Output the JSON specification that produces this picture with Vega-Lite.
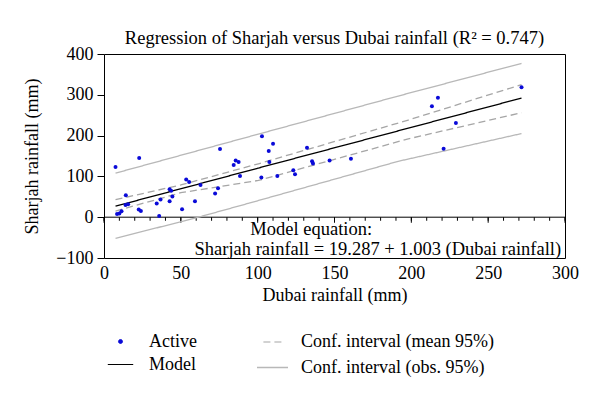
{
  "$schema": "https://vega.github.io/schema/vega-lite/v6.json",
  "width": 461,
  "height": 204,
  "padding": {"left": 23, "top": 28, "right": 10, "bottom": 5},
  "background": "white",
  "title": {"text": "Regression of Sharjah versus Dubai rainfall (R² = 0.747)", "font": "Liberation Serif", "fontSize": 18.5, "fontWeight": "normal", "color": "#000", "offset": -2},
  "config": {
    "view": {"stroke": "#000", "strokeWidth": 1},
    "axis": {"labelFont": "Liberation Serif", "titleFont": "Liberation Serif", "labelFontSize": 18, "titleFontSize": 18, "titleFontWeight": "normal", "labelColor": "#000", "titleColor": "#000", "grid": false, "domainColor": "#000", "tickColor": "#000"},
    "legend": {"labelFont": "Liberation Serif", "labelFontSize": 18, "labelColor": "#000", "labelLimit": 400}
  },
  "datasets": {
    "pts": [
      {"dubai": 7.5, "sharjah": 123, "series": "Active"},
      {"dubai": 8.5, "sharjah": 8, "series": "Active"},
      {"dubai": 10, "sharjah": 9, "series": "Active"},
      {"dubai": 11.4, "sharjah": 14.7, "series": "Active"},
      {"dubai": 14.2, "sharjah": 54, "series": "Active"},
      {"dubai": 14, "sharjah": 30, "series": "Active"},
      {"dubai": 15.7, "sharjah": 32, "series": "Active"},
      {"dubai": 22.9, "sharjah": 145, "series": "Active"},
      {"dubai": 22.6, "sharjah": 19, "series": "Active"},
      {"dubai": 24, "sharjah": 15, "series": "Active"},
      {"dubai": 34.3, "sharjah": 33.5, "series": "Active"},
      {"dubai": 35.9, "sharjah": 3, "series": "Active"},
      {"dubai": 36.8, "sharjah": 43.5, "series": "Active"},
      {"dubai": 42.7, "sharjah": 68.8, "series": "Active"},
      {"dubai": 43.7, "sharjah": 65, "series": "Active"},
      {"dubai": 42.7, "sharjah": 39, "series": "Active"},
      {"dubai": 44.5, "sharjah": 51, "series": "Active"},
      {"dubai": 50.8, "sharjah": 19.5, "series": "Active"},
      {"dubai": 53.5, "sharjah": 92.5, "series": "Active"},
      {"dubai": 55.4, "sharjah": 86, "series": "Active"},
      {"dubai": 59.2, "sharjah": 39, "series": "Active"},
      {"dubai": 62.8, "sharjah": 79, "series": "Active"},
      {"dubai": 72.3, "sharjah": 58, "series": "Active"},
      {"dubai": 74.2, "sharjah": 71, "series": "Active"},
      {"dubai": 75.5, "sharjah": 167, "series": "Active"},
      {"dubai": 84.4, "sharjah": 128, "series": "Active"},
      {"dubai": 85.7, "sharjah": 139, "series": "Active"},
      {"dubai": 87.6, "sharjah": 135.5, "series": "Active"},
      {"dubai": 88.5, "sharjah": 101, "series": "Active"},
      {"dubai": 102.4, "sharjah": 97, "series": "Active"},
      {"dubai": 102.8, "sharjah": 198.5, "series": "Active"},
      {"dubai": 107.2, "sharjah": 162, "series": "Active"},
      {"dubai": 107.6, "sharjah": 135.5, "series": "Active"},
      {"dubai": 110, "sharjah": 180, "series": "Active"},
      {"dubai": 112.8, "sharjah": 101, "series": "Active"},
      {"dubai": 123.2, "sharjah": 115, "series": "Active"},
      {"dubai": 124.3, "sharjah": 105.4, "series": "Active"},
      {"dubai": 132.1, "sharjah": 170, "series": "Active"},
      {"dubai": 135.4, "sharjah": 137, "series": "Active"},
      {"dubai": 136, "sharjah": 131.5, "series": "Active"},
      {"dubai": 146.8, "sharjah": 139, "series": "Active"},
      {"dubai": 160.7, "sharjah": 143, "series": "Active"},
      {"dubai": 213.4, "sharjah": 272, "series": "Active"},
      {"dubai": 217.3, "sharjah": 292.5, "series": "Active"},
      {"dubai": 221, "sharjah": 167.5, "series": "Active"},
      {"dubai": 229, "sharjah": 231, "series": "Active"},
      {"dubai": 271.7, "sharjah": 318.6, "series": "Active"}
    ],
    "lines": [
      {"dubai": 7.5, "sharjah": 27, "series": "Model", "part": "model"},
      {"dubai": 100, "sharjah": 120, "series": "Model", "part": "model"},
      {"dubai": 271.7, "sharjah": 292, "series": "Model", "part": "model"},
      {"dubai": 7.5, "sharjah": 43, "series": "Conf. interval (mean 95%)", "part": "mean_up"},
      {"dubai": 50, "sharjah": 79, "series": "Conf. interval (mean 95%)", "part": "mean_up"},
      {"dubai": 100.5, "sharjah": 131, "series": "Conf. interval (mean 95%)", "part": "mean_up"},
      {"dubai": 198, "sharjah": 238, "series": "Conf. interval (mean 95%)", "part": "mean_up"},
      {"dubai": 271.7, "sharjah": 325, "series": "Conf. interval (mean 95%)", "part": "mean_up"},
      {"dubai": 7.5, "sharjah": 15, "series": "Conf. interval (mean 95%)", "part": "mean_lo"},
      {"dubai": 50, "sharjah": 60, "series": "Conf. interval (mean 95%)", "part": "mean_lo"},
      {"dubai": 100.5, "sharjah": 90, "series": "Conf. interval (mean 95%)", "part": "mean_lo"},
      {"dubai": 198, "sharjah": 192, "series": "Conf. interval (mean 95%)", "part": "mean_lo"},
      {"dubai": 271.7, "sharjah": 256, "series": "Conf. interval (mean 95%)", "part": "mean_lo"},
      {"dubai": 7.5, "sharjah": 108, "series": "Conf. interval (obs. 95%)", "part": "obs_up"},
      {"dubai": 94, "sharjah": 197, "series": "Conf. interval (obs. 95%)", "part": "obs_up"},
      {"dubai": 191.5, "sharjah": 297, "series": "Conf. interval (obs. 95%)", "part": "obs_up"},
      {"dubai": 271.7, "sharjah": 377, "series": "Conf. interval (obs. 95%)", "part": "obs_up"},
      {"dubai": 7.5, "sharjah": -52, "series": "Conf. interval (obs. 95%)", "part": "obs_lo"},
      {"dubai": 61.4, "sharjah": 0, "series": "Conf. interval (obs. 95%)", "part": "obs_lo"},
      {"dubai": 94, "sharjah": 34, "series": "Conf. interval (obs. 95%)", "part": "obs_lo"},
      {"dubai": 191.5, "sharjah": 137, "series": "Conf. interval (obs. 95%)", "part": "obs_lo"},
      {"dubai": 271.7, "sharjah": 205, "series": "Conf. interval (obs. 95%)", "part": "obs_lo"}
    ],
    "zeroTicks": [
      {"dubai": 0}, {"dubai": 10}, {"dubai": 20}, {"dubai": 30}, {"dubai": 40}, {"dubai": 50},
      {"dubai": 60}, {"dubai": 70}, {"dubai": 80}, {"dubai": 90}, {"dubai": 100}, {"dubai": 110},
      {"dubai": 120}, {"dubai": 130}, {"dubai": 140}, {"dubai": 150}, {"dubai": 160}, {"dubai": 170},
      {"dubai": 180}, {"dubai": 190}, {"dubai": 200}, {"dubai": 210}, {"dubai": 220}, {"dubai": 230},
      {"dubai": 240}, {"dubai": 250}, {"dubai": 260}, {"dubai": 270}, {"dubai": 280}, {"dubai": 290}, {"dubai": 300}
    ],
    "zeroMajor": [
      {"dubai": 0}, {"dubai": 50}, {"dubai": 100}, {"dubai": 150}, {"dubai": 200}, {"dubai": 250}, {"dubai": 300}
    ]
  },
  "layer": [
    {
      "data": {"values": [{"zero": 0}]},
      "mark": {"type": "rule", "color": "#000", "strokeWidth": 1},
      "encoding": {
        "y": {"field": "zero", "type": "quantitative", "scale": {"domain": [-100, 400], "nice": false, "zero": false}}
      }
    },
    {
      "data": {"name": "zeroTicks"},
      "mark": {"type": "tick", "orient": "vertical", "color": "#000", "size": 3.5, "thickness": 1, "opacity": 1},
      "encoding": {
        "x": {"field": "dubai", "type": "quantitative"},
        "y": {"datum": -4.3, "type": "quantitative"}
      }
    },
    {
      "data": {"name": "zeroMajor"},
      "mark": {"type": "tick", "orient": "vertical", "color": "#000", "size": 5.5, "thickness": 1, "opacity": 1},
      "encoding": {
        "x": {"field": "dubai", "type": "quantitative"},
        "y": {"datum": -6.7, "type": "quantitative"}
      }
    },
    {
      "data": {"name": "lines"},
      "mark": {"type": "line", "strokeWidth": 1.3},
      "encoding": {
        "x": {"field": "dubai", "type": "quantitative", "scale": {"domain": [0, 300], "nice": false, "zero": false}},
        "y": {"field": "sharjah", "type": "quantitative"},
        "detail": {"field": "part"},
        "color": {"field": "series", "type": "nominal",
                  "scale": {"domain": ["Active", "Conf. interval (mean 95%)", "Model", "Conf. interval (obs. 95%)"], "range": ["#0a0ad8", "#a6a6a6", "#000000", "#b8b8b8"]},
                  "legend": {"title": null, "orient": "bottom", "direction": "horizontal", "columns": 2, "columnPadding": 57, "rowPadding": 0, "labelOffset": 12, "symbolStrokeWidth": 1.5, "offset": 28}},
        "strokeDash": {"field": "series", "type": "nominal",
                  "scale": {"domain": ["Active", "Conf. interval (mean 95%)", "Model", "Conf. interval (obs. 95%)"], "range": [[1,0],[7,4],[1,0],[1,0]]}},
        "strokeWidth": {"field": "series", "type": "nominal", "legend": null,
                  "scale": {"domain": ["Active", "Conf. interval (mean 95%)", "Model", "Conf. interval (obs. 95%)"], "range": [1, 1.3, 1.8, 1.3]}}
      }
    },
    {
      "data": {"name": "pts"},
      "mark": {"type": "point", "filled": true, "opacity": 1},
      "encoding": {
        "x": {"field": "dubai", "type": "quantitative",
              "axis": {"orient": "bottom", "title": "Dubai rainfall (mm)", "values": [0,50,100,150,200,250,300], "ticks": false, "domain": false, "labelPadding": 6, "titlePadding": 4, "labelFlush": false, "labelFont": "Liberation Serif", "labelFontSize": 18}},
        "y": {"field": "sharjah", "type": "quantitative",
              "axis": {"title": "Sharjah rainfall (mm)", "values": [-100,-50,0,50,100,150,200,250,300,350,400], "tickSize": 7, "labelPadding": 4, "titlePadding": 14, "domain": false, "labelFlush": false, "labelFont": "Liberation Serif", "labelFontSize": 18}},
        "color": {"field": "series", "type": "nominal"},
        "shape": {"field": "series", "type": "nominal",
                  "scale": {"domain": ["Active", "Conf. interval (mean 95%)", "Model", "Conf. interval (obs. 95%)"], "range": ["circle", "stroke", "stroke", "stroke"]}},
        "size": {"field": "series", "type": "nominal",
                 "scale": {"domain": ["Active", "Conf. interval (mean 95%)", "Model", "Conf. interval (obs. 95%)"], "range": [16, 961, 961, 961]}}
      }
    },
    {
      "data": {"values": [{"label": "Model equation:", "px": 95.2, "py": -29}]},
      "mark": {"type": "text", "font": "Liberation Serif", "fontSize": 18.5, "color": "#000", "align": "left", "baseline": "middle"},
      "encoding": {
        "x": {"field": "px", "type": "quantitative"},
        "y": {"field": "py", "type": "quantitative"},
        "text": {"field": "label"}
      }
    },
    {
      "data": {"values": [{"label": "Sharjah rainfall = 19.287 + 1.003 (Dubai rainfall)", "px": 297.5, "py": -79}]},
      "mark": {"type": "text", "font": "Liberation Serif", "fontSize": 18.5, "color": "#000", "align": "right", "baseline": "middle"},
      "encoding": {
        "x": {"field": "px", "type": "quantitative"},
        "y": {"field": "py", "type": "quantitative"},
        "text": {"field": "label"}
      }
    }
  ]
}
